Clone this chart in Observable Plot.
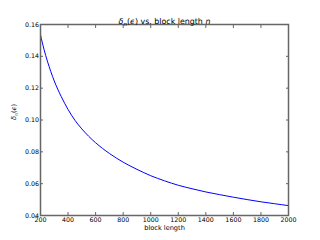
<!DOCTYPE html>
<html><head><meta charset="utf-8">
<script src="https://cdn.jsdelivr.net/npm/d3@7"></script>
<script src="https://cdn.jsdelivr.net/npm/@observablehq/plot@0.6"></script>
<style>html,body{margin:0;padding:0;background:#fff}
svg text{-webkit-font-smoothing:antialiased;text-rendering:geometricPrecision}</style>
</head><body><div id="chart"></div>
<script>
const blockLength = [200,225,250,300,350,400,450,500,600,700,800,900,1000,1100,1200,1300,1400,1500,1600,1700,1800,1900,2000];
const delta = [0.1535,0.1445,0.137,0.1245,0.1148,0.1066,0.0998,0.0944,0.0857,0.079,0.0735,0.069,0.065,0.0618,0.059,0.0568,0.0548,0.0531,0.0515,0.050,0.0486,0.0474,0.0462];
const xTicks = [200,400,600,800,1000,1200,1400,1600,1800,2000];
const yTicks = [0.04,0.06,0.08,0.10,0.12,0.14,0.16];
const titleText = "δn(ϵ) vs. block length n";
const xLabelText = "block length";
const yLabelText = "δn(ϵ)";

const data = blockLength.map((n, i) => ({n, d: delta[i]}));
const axisColor = "#666";

const chart = Plot.plot({
  width: 320, height: 240,
  marginLeft: 40, marginRight: 32, marginTop: 24, marginBottom: 25,
  style: {fontFamily: "DejaVu Sans", fontSize: "6.3px", background: "#fff", color: "#000"},
  x: {domain: [200, 2000]},
  y: {domain: [0.04, 0.16]},
  marks: [
    Plot.line(data, {x: "n", y: "d", stroke: "#0000ff", strokeWidth: 1, curve: "monotone-x"}),
    Plot.frame({stroke: axisColor, strokeWidth: 1.5}),
    Plot.axisX(xTicks, {anchor: "bottom", tickSize: -3, tickFormat: () => "", label: null, stroke: axisColor}),
    Plot.axisX(xTicks, {anchor: "top", tickSize: -3, tickFormat: () => "", label: null, stroke: axisColor}),
    Plot.axisY(yTicks, {anchor: "left", tickSize: -3, tickFormat: () => "", label: null, stroke: axisColor}),
    Plot.axisY(yTicks, {anchor: "right", tickSize: -3, tickFormat: () => "", label: null, stroke: axisColor}),
    Plot.axisX(xTicks, {anchor: "bottom", tickSize: 0, tickPadding: 2.2, tickFormat: d3.format("d"), label: null, fill: "#000"}),
    Plot.axisY(yTicks, {anchor: "left", tickSize: 0, tickPadding: 1.5, tickFormat: d3.format(".2f"), label: null, fill: "#000"}),
    Plot.text([titleText], {frameAnchor: "top", dy: -6.5, text: d => d, fontSize: 7.9, fill: "#000"}),
    Plot.text([xLabelText], {frameAnchor: "bottom", dy: 14, text: d => d, fontSize: 6.6, fill: "#000"}),
    Plot.text([yLabelText], {frameAnchor: "left", dx: -26.7, rotate: -90, text: d => d, fontSize: 6.6, fill: "#000"})
  ]
});
document.getElementById("chart").appendChild(chart);

function rich(str, parts, sub) {
  d3.select(chart).selectAll("text").filter(function() { return this.textContent === str; }).each(function() {
    const t = d3.select(this);
    t.text(null);
    let shift = 0;
    parts.forEach(([s, st]) => {
      const ts = t.append("tspan").text(s);
      if (st.includes("i")) ts.attr("font-style", "italic");
      if (st.includes("s")) { ts.attr("font-size", "70%").attr("dy", sub - shift); shift = sub; }
      else if (shift) { ts.attr("dy", -shift); shift = 0; }
    });
  });
}
rich(titleText, [["δ", "i"], ["n", "is"], ["(", ""], ["ϵ", "i"], [")", ""], [" vs. block length ", ""], ["n", "i"]], 2);
rich(yLabelText, [["δ", "i"], ["n", "is"], ["(", ""], ["ϵ", "i"], [")", ""]], 1.8);
</script>
</body></html>
